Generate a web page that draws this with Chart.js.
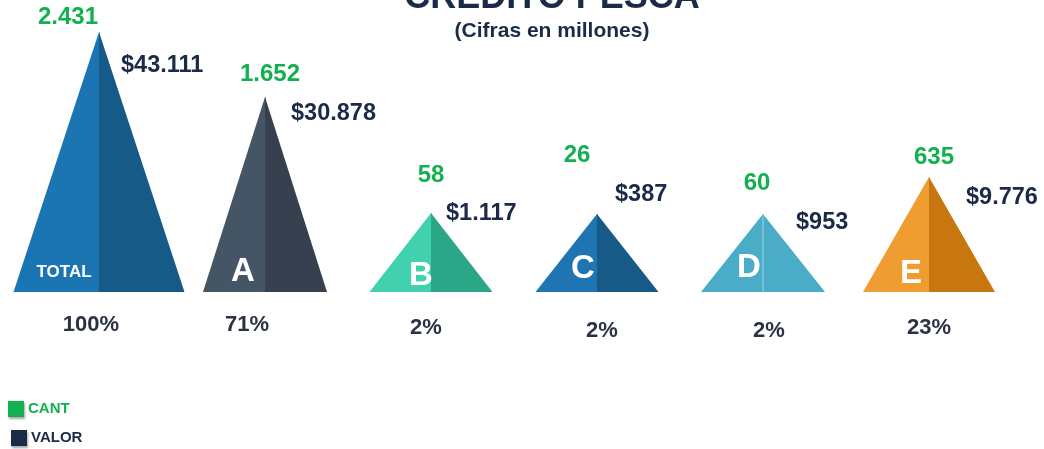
<!DOCTYPE html>
<html><head><meta charset="utf-8">
<script src="https://cdn.jsdelivr.net/npm/chart.js@4"></script>
<style>html,body{margin:0;padding:0;background:#fff;overflow:hidden}#wrap{width:1044px;height:449px;position:relative}</style>
</head><body><div id="wrap"><canvas id="c" width="1044" height="449"></canvas></div>
<script>
// ---- data ----
const categories = ['TOTAL', 'A', 'B', 'C', 'D', 'E'];
const pyramidHeights = [100, 75, 30.4, 30, 30, 44.2];   // visual height of each pyramid (TOTAL = 100)
const cantValues = [2431, 1652, 58, 26, 60, 635];
const valorValues = [43111, 30878, 1117, 387, 953, 9776];
const percentValues = [100, 71, 2, 2, 2, 23];
const legendLabels = ['CANT', 'VALOR'];
const titleText = 'CRÉDITO PESCA';
const subtitleText = '(Cifras en millones)';

// ---- styles / layout ----
const leftColors  = ['#1c75b3', '#445566', '#41d1ae', '#1e75b2', '#4aacc6', '#ef9c30'];
const rightColors = ['#165a87', '#36404e', '#2ba686', '#175a87', '#4aacc6', '#c8770f'];
const dividerColors = [null, null, null, null, '#8fd0e0', null];
const widthFactor = [1.03, 0.747, 0.741, 0.741, 0.747, 0.795];
const cantOffset  = [[-31, -15], [5, -23], [0, -38], [-20, -59], [-6, -31], [5, -20]];
const valorOffset = [[22, 34], [26, 17], [15, 1], [18, -19], [33, 9], [37, 20]];
const pctOffset   = [[-8, 33], [-18, 33], [-5, 36], [5, 39], [6, 39], [0, 36]];
const letterOffset = [[-35, -20], [-22, -20], [-10, -16], [-14, -23], [-14, -24], [-18, -18]];
const GREEN = '#12b050', NAVY = '#1b2a47', PCT = '#2b3242';
const FONT = '"Liberation Sans", Arial, sans-serif';

function fmt(n) { return String(n).replace(/\B(?=(\d{3})+(?!\d))/g, '.'); }

const pyramidPlugin = {
  id: 'pyramids',
  beforeDatasetDraw(chart) {
    const ctx = chart.ctx;
    const meta = chart.getDatasetMeta(0);
    ctx.save();
    meta.data.forEach((bar, i) => {
      const p = bar.getProps(['x', 'y', 'base', 'width'], true);
      const half = p.width * widthFactor[i] / 2;
      ctx.beginPath();
      ctx.moveTo(p.x - half, p.base); ctx.lineTo(p.x, p.y); ctx.lineTo(p.x + 0.6, p.y);
      ctx.lineTo(p.x + 0.6, p.base); ctx.closePath();
      ctx.fillStyle = leftColors[i]; ctx.fill();
      ctx.beginPath();
      ctx.moveTo(p.x, p.y); ctx.lineTo(p.x + half, p.base); ctx.lineTo(p.x, p.base); ctx.closePath();
      ctx.fillStyle = rightColors[i]; ctx.fill();
      if (dividerColors[i]) {
        ctx.beginPath(); ctx.moveTo(p.x, p.y + 1); ctx.lineTo(p.x, p.base);
        ctx.strokeStyle = dividerColors[i]; ctx.lineWidth = 1.2; ctx.stroke();
      }
    });
    ctx.restore();
    return false;
  },
  afterDraw(chart) {
    const ctx = chart.ctx;
    const meta = chart.getDatasetMeta(0);
    ctx.save();
    ctx.textBaseline = 'middle';
    meta.data.forEach((bar, i) => {
      const p = bar.getProps(['x', 'y', 'base'], true);
      // count
      ctx.font = 'bold 24px ' + FONT; ctx.fillStyle = GREEN; ctx.textAlign = 'center';
      ctx.fillText(fmt(cantValues[i]), p.x + cantOffset[i][0], p.y + cantOffset[i][1]);
      // value
      ctx.font = 'bold 23.5px ' + FONT; ctx.fillStyle = NAVY; ctx.textAlign = 'left';
      ctx.fillText('$' + fmt(valorValues[i]), p.x + valorOffset[i][0], p.y + valorOffset[i][1]);
      // percent
      ctx.font = 'bold 22px ' + FONT; ctx.fillStyle = PCT; ctx.textAlign = 'center';
      ctx.fillText(percentValues[i] + '%', p.x + pctOffset[i][0], p.base + pctOffset[i][1]);
      // letter
      ctx.fillStyle = '#ffffff';
      ctx.font = (i === 0 ? 'bold 17px ' : 'bold 33px ') + FONT;
      ctx.fillText(categories[i], p.x + letterOffset[i][0], p.base + letterOffset[i][1]);
    });
    // title & subtitle
    ctx.textAlign = 'center'; ctx.textBaseline = 'alphabetic'; ctx.fillStyle = NAVY;
    ctx.font = 'bold 36px ' + FONT;
    ctx.fillText(titleText, 552, 8);
    ctx.font = 'bold 21px ' + FONT;
    ctx.fillText(subtitleText, 552, 37);
    // legend
    const legendColors = [GREEN, NAVY];
    const legendBoxes = [[8, 401], [11, 430]];
    legendLabels.forEach((lab, k) => {
      const [bx, by] = legendBoxes[k];
      ctx.save();
      ctx.shadowColor = 'rgba(0,0,0,0.35)'; ctx.shadowOffsetX = 1; ctx.shadowOffsetY = 2; ctx.shadowBlur = 2;
      ctx.fillStyle = legendColors[k];
      ctx.fillRect(bx, by, 16, 16);
      ctx.restore();
      ctx.font = 'bold 15px ' + FONT; ctx.textAlign = 'left'; ctx.textBaseline = 'middle';
      ctx.fillStyle = legendColors[k];
      ctx.fillText(lab, bx + 20, by + 8);
    });
    ctx.restore();
  }
};

new Chart(document.getElementById('c'), {
  type: 'bar',
  data: {
    labels: categories,
    datasets: [{ label: 'Pirámide', data: pyramidHeights, backgroundColor: leftColors,
      barPercentage: 1, categoryPercentage: 1 }]
  },
  options: {
    responsive: false, devicePixelRatio: 1, animation: false,
    layout: { padding: { left: 16, right: 32, top: 32, bottom: 157 } },
    scales: {
      x: { display: false },
      y: { display: false, min: 0, max: 100 }
    },
    plugins: { legend: { display: false }, tooltip: { enabled: false }, title: { display: false } }
  },
  plugins: [pyramidPlugin]
});
</script></body></html>
